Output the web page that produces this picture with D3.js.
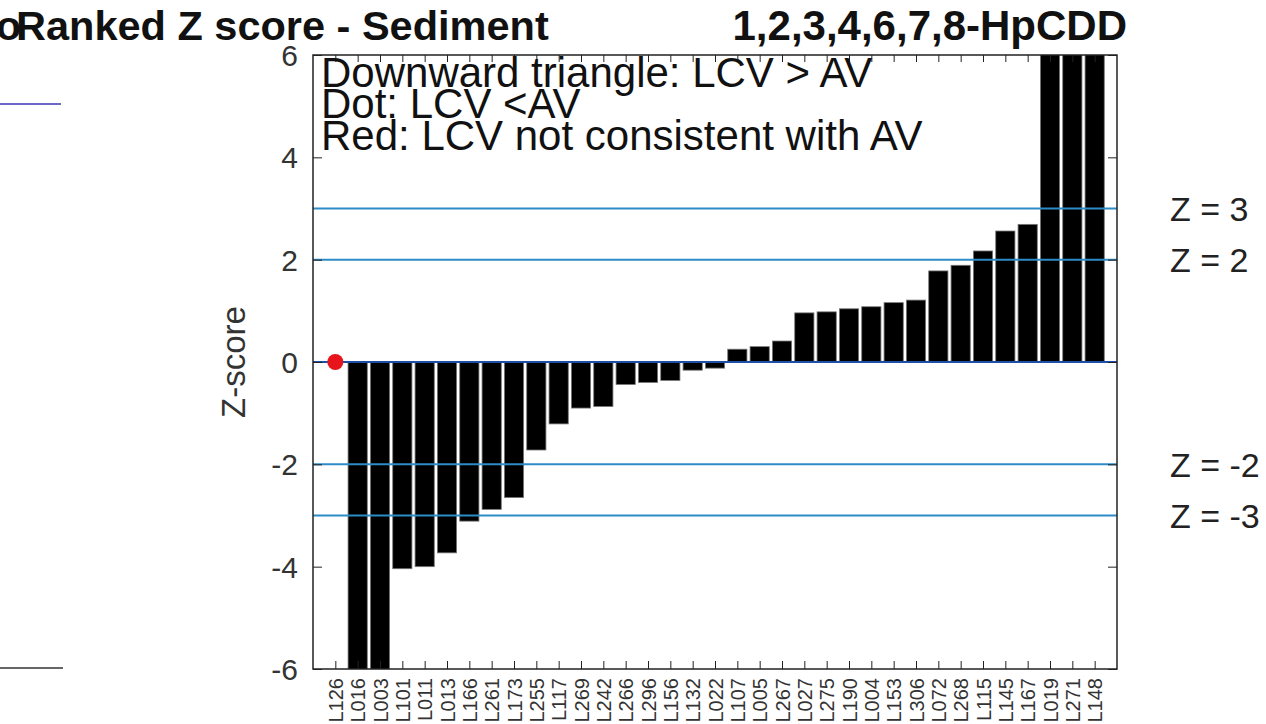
<!DOCTYPE html>
<html><head><meta charset="utf-8">
<script src="https://cdn.jsdelivr.net/npm/d3@7"></script>
<style>
body{margin:0;background:#fff;}
svg{display:block;font-family:"Liberation Sans",Arial,Helvetica,sans-serif;}
</style>
</head><body>
<svg id="chart" width="1266" height="724"></svg>
<script>
// ---------- data ----------
const categories = ["L126","L016","L003","L101","L011","L013","L166","L261","L173","L255",
  "L117","L269","L242","L266","L296","L156","L132","L022","L107","L005","L267","L027",
  "L275","L190","L004","L153","L306","L072","L268","L115","L145","L167","L019","L271","L148"];
// bar z-scores (null = shown as a dot instead of a bar)
const zScores = [null,-8,-8,-4.04,-4.0,-3.73,-3.11,-2.88,-2.65,-1.72,
  -1.21,-0.90,-0.87,-0.44,-0.40,-0.36,-0.16,-0.12,0.25,0.30,0.41,0.96,
  0.98,1.04,1.08,1.16,1.21,1.78,1.89,2.17,2.56,2.69,8,8,8];
const dotCategories = ["L126"];
const dotValues = [0];
const zLines = [3, 2, -2, -3];
const zLineLabels = ["Z = 3","Z = 2","Z = -2","Z = -3"];
const yTicks = [-6,-4,-2,0,2,4,6];
const yTickLabels = ["-6","-4","-2","0","2","4","6"];
const titleLeft = "Ranked Z score - Sediment";
const titleRight = "1,2,3,4,6,7,8-HpCDD";
const notes = ["Downward triangle: LCV > AV","Dot: LCV <AV","Red: LCV not consistent with AV"];

// ---------- layout ----------
const svg = d3.select("#chart");
const L = 313, R = 1117, T = 55, B = 669;
const x = d3.scaleLinear().domain([0, categories.length + 1]).range([L, R]);
const y = d3.scaleLinear().domain([-6, 6]).range([B, T]);
const step = x(1) - x(0);
const bw = step * 0.86;
const idx = c => categories.indexOf(c) + 1;

svg.append("defs").append("clipPath").attr("id","plotclip")
  .append("rect").attr("x",L).attr("y",T).attr("width",R-L).attr("height",B-T);

// stray fragments at left edge
svg.append("line").attr("x1",0).attr("x2",61).attr("y1",104).attr("y2",104)
  .attr("stroke","#3a36b8").attr("stroke-width",1.5);
svg.append("line").attr("x1",0).attr("x2",63).attr("y1",668).attr("y2",668)
  .attr("stroke","#333").attr("stroke-width",1.5);

// titles
svg.append("text").attr("x",-4).attr("y",40).attr("font-size",41).attr("font-weight","bold")
  .attr("fill","#111").text("o");
svg.append("text").attr("x",16).attr("y",40).attr("font-size",41.5).attr("font-weight","bold")
  .attr("fill","#111").text(titleLeft);
svg.append("text").attr("x",1127).attr("y",40).attr("text-anchor","end").attr("font-size",42)
  .attr("font-weight","bold").attr("fill","#111").text(titleRight);

// bars
const plot = svg.append("g").attr("clip-path","url(#plotclip)");
const barData = categories.map((c,i)=>({c, v:zScores[i]})).filter(d=>d.v!==null);
plot.selectAll("rect.bar").data(barData).join("rect").attr("class","bar")
  .attr("x", d => x(idx(d.c)) - bw/2)
  .attr("width", bw)
  .attr("y", d => y(Math.max(0,d.v)))
  .attr("height", d => Math.abs(y(d.v) - y(0)))
  .attr("fill","#000").attr("stroke","#777").attr("stroke-width",0.8);

// reference lines
plot.selectAll("line.z").data(zLines).join("line").attr("class","z")
  .attr("x1",L).attr("x2",R).attr("y1",d=>y(d)).attr("y2",d=>y(d))
  .attr("stroke","#2d8bc6").attr("stroke-width",2);
plot.append("line").attr("x1",L).attr("x2",R).attr("y1",y(0)).attr("y2",y(0))
  .attr("stroke","#1d4fa6").attr("stroke-width",2);

// dot
svg.selectAll("circle.dot").data(dotCategories.map((c,i)=>({c, v:dotValues[i]}))).join("circle")
  .attr("class","dot").attr("cx",d=>x(idx(d.c))).attr("cy",d=>y(d.v)).attr("r",8)
  .attr("fill","#e8141c");

// axes (inward ticks)
const tickIdx = categories.map((c,i)=>i+1);
const xb = svg.append("g").attr("transform",`translate(0,${B})`)
  .call(d3.axisBottom(x).tickValues(tickIdx).tickSize(-8).tickFormat(i=>categories[i-1]));
xb.select(".domain").remove();
xb.selectAll("line").attr("stroke","#222");
xb.selectAll("text").attr("transform","rotate(-90)").attr("x",-9).attr("y",0)
  .attr("dy","0.36em").attr("text-anchor","end").attr("font-size",20)
  .attr("font-family","Liberation Sans, Arial, sans-serif").attr("fill","#333");

const xt = svg.append("g").attr("transform",`translate(0,${T})`)
  .call(d3.axisTop(x).tickValues(tickIdx).tickSize(-7).tickFormat(""));
xt.select(".domain").remove();
xt.selectAll("line").attr("stroke","#222");

const yl = svg.append("g").attr("transform",`translate(${L},0)`)
  .call(d3.axisLeft(y).tickValues(yTicks).tickSize(-9).tickPadding(15)
    .tickFormat(d=>yTickLabels[yTicks.indexOf(d)]));
yl.select(".domain").remove();
yl.selectAll("line").attr("stroke","#222");
yl.selectAll("text").attr("font-size",30).attr("font-family","Liberation Sans, Arial, sans-serif")
  .attr("fill","#333").attr("dy","0.35em");

const yr = svg.append("g").attr("transform",`translate(${R},0)`)
  .call(d3.axisRight(y).tickValues(yTicks).tickSize(-9).tickFormat(""));
yr.select(".domain").remove();
yr.selectAll("line").attr("stroke","#222");

// frame
svg.append("rect").attr("x",L).attr("y",T).attr("width",R-L).attr("height",B-T)
  .attr("fill","none").attr("stroke","#222").attr("stroke-width",1.5);

// y axis title
svg.append("text").attr("transform",`translate(245,${(T+B)/2}) rotate(-90)`)
  .attr("text-anchor","middle").attr("font-size",33).attr("fill","#333").text("Z-score");

// annotation text
svg.selectAll("text.note").data(notes).join("text").attr("class","note")
  .attr("x",321).attr("y",(d,i)=>[87,118,150][i]).attr("font-size",42).attr("fill","#111").text(d=>d);

// Z labels on the right
svg.selectAll("text.zl").data(zLines).join("text").attr("class","zl")
  .attr("x",1170).attr("y",d=>y(d)).attr("dy","0.36em").attr("font-size",34).attr("fill","#222")
  .text((d,i)=>zLineLabels[i]);
</script>
</body></html>
